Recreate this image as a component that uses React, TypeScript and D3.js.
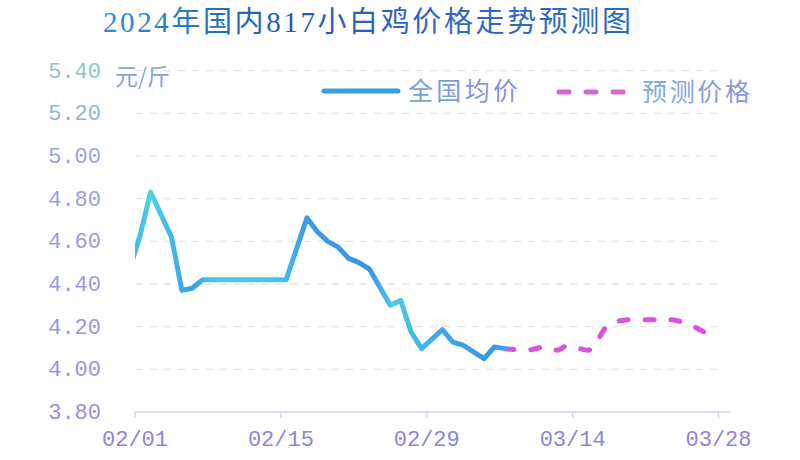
import * as d3 from "d3";

// 全国均价 (daily)
const actualDates = [
    "2024-01-31", "2024-02-01", "2024-02-02", "2024-02-04", "2024-02-05", "2024-02-06",
    "2024-02-07", "2024-02-08", "2024-02-09", "2024-02-10", "2024-02-11", "2024-02-12",
    "2024-02-13", "2024-02-14", "2024-02-15", "2024-02-17", "2024-02-18", "2024-02-19",
    "2024-02-20", "2024-02-21", "2024-02-22", "2024-02-23", "2024-02-25", "2024-02-26",
    "2024-02-27", "2024-02-28", "2024-03-01", "2024-03-02", "2024-03-03", "2024-03-05",
    "2024-03-06", "2024-03-07",
];
const actualValues = [
    4.47, 4.63, 4.83, 4.62, 4.37, 4.38,
    4.42, 4.42, 4.42, 4.42, 4.42, 4.42,
    4.42, 4.42, 4.42, 4.71, 4.645, 4.60,
    4.573, 4.52, 4.50, 4.47, 4.30, 4.323,
    4.175, 4.097, 4.186, 4.128, 4.113, 4.05,
    4.105, 4.097,
];

// 预测价格
const forecastDates = [
    "2024-03-07", "2024-03-09", "2024-03-11", "2024-03-12", "2024-03-13", "2024-03-15",
    "2024-03-17", "2024-03-19", "2024-03-23", "2024-03-24", "2024-03-27",
];
const forecastValues = [
    4.097, 4.09, 4.105, 4.09, 4.11, 4.09,
    4.21, 4.233, 4.233, 4.222, 4.15,
];

const yTicks = [3.8, 4.0, 4.2, 4.4, 4.6, 4.8, 5.0, 5.2, 5.4];
const xTickLabels = ["02/01", "02/15", "02/29", "03/14", "03/28"];

const title = "2024年国内817小白鸡价格走势预测图";
const unitLabel = "元/斤";
const legendActual = "全国均价";
const legendForecast = "预测价格";

const parse = d3.timeParse("%Y-%m-%d");
// daily values sit in the middle of their day
const noon = (s: string) => d3.timeHour.offset(parse(s) as Date, 12);
const tickDate = (s: string) => new Date(2024, +s.slice(0, 2) - 1, +s.slice(3));

const mono = "'Liberation Mono', 'DejaVu Sans Mono', monospace";
const cjk = "'Noto Sans CJK SC', sans-serif";

function App() {
    const left = 135;
    const right = 718.5;
    const top = 70.7;
    const bottom = 412;

    const x = d3.scaleTime()
        .domain([tickDate(xTickLabels[0]), tickDate(xTickLabels[xTickLabels.length - 1])])
        .range([left, right]);
    const y = d3.scaleLinear().domain([3.8, 5.4]).range([bottom, top]);

    const actual = actualDates.map((d, i) => ({ date: noon(d), value: actualValues[i] }));
    const forecast = forecastDates.map((d, i) => ({ date: noon(d), value: forecastValues[i] }));

    const actualLine = d3.line<{ date: Date; value: number }>()
        .x(d => x(d.date))
        .y(d => y(d.value));
    const forecastLine = d3.line<{ date: Date; value: number }>()
        .x(d => x(d.date))
        .y(d => y(d.value))
        .curve(d3.curveMonotoneX);

    const tickColor = d3.scaleLinear<string>()
        .domain([5.4, 5.0, 3.8])
        .range(["#8cc6cc", "#9aa0e2", "#9b8de6"]);

    return (
        <svg width={800} height={460} style={{ position: "absolute", left: 0, top: 0, background: "#fff" }}>
            <defs>
                <linearGradient id="titleGrad" x1="0" x2="1" y1="0" y2="0">
                    <stop offset="0%" stopColor="#2f8fd6" />
                    <stop offset="35%" stopColor="#1f5cb0" />
                    <stop offset="65%" stopColor="#3466c4" />
                    <stop offset="100%" stopColor="#2a6cc0" />
                </linearGradient>
                <linearGradient id="ruleGrad" x1="0" x2="1" y1="0" y2="0">
                    <stop offset="0%" stopColor="#3c3c9e" />
                    <stop offset="45%" stopColor="#2a6ec8" />
                    <stop offset="100%" stopColor="#4a48b0" />
                </linearGradient>
                <linearGradient id="blueGrad" gradientUnits="userSpaceOnUse" x1={left} x2={520} y1="0" y2="0">
                    <stop offset="0%" stopColor="#3fb8e8" />
                    <stop offset="4%" stopColor="#4fd2e2" />
                    <stop offset="11%" stopColor="#40b0e8" />
                    <stop offset="15%" stopColor="#3a9ce6" />
                    <stop offset="20%" stopColor="#48c8e6" />
                    <stop offset="38%" stopColor="#46c4e6" />
                    <stop offset="44%" stopColor="#3a9ce8" />
                    <stop offset="61%" stopColor="#3a94e4" />
                    <stop offset="67%" stopColor="#4ccce2" />
                    <stop offset="72%" stopColor="#46bce6" />
                    <stop offset="80%" stopColor="#3fa6e8" />
                    <stop offset="92%" stopColor="#3a98e4" />
                    <stop offset="100%" stopColor="#4aa8e8" />
                </linearGradient>
                <linearGradient id="legendText" x1="0" x2="1" y1="0" y2="0">
                    <stop offset="0%" stopColor="#6fa6dc" />
                    <stop offset="100%" stopColor="#8a8ede" />
                </linearGradient>
                <linearGradient id="legendText2" x1="0" x2="1" y1="0" y2="0">
                    <stop offset="0%" stopColor="#7ab0d4" />
                    <stop offset="100%" stopColor="#8c94dc" />
                </linearGradient>
                <clipPath id="plotClip">
                    <rect x={left} y={0} width={800 - left} height={460} />
                </clipPath>
            </defs>

            {/* title + rule */}
            <text x={103} y={32} fontSize={29} fontFamily={`'Liberation Serif', ${cjk}`}
                fill="url(#titleGrad)" textLength={528} lengthAdjust="spacing">{title}</text>
            <line x1={20} x2={785} y1={51} y2={51} stroke="url(#ruleGrad)" strokeWidth={3} />

            {/* grid */}
            <g>
                {yTicks.slice(1).map(t => (
                    <line key={t} x1={left + 1} x2={723} y1={y(t)} y2={y(t)}
                        stroke="#e4e4ec" strokeWidth={1.3} strokeDasharray="7 7" />
                ))}
            </g>

            {/* y labels */}
            <g fontFamily={mono} fontSize={22} textAnchor="end">
                {yTicks.map(t => (
                    <text key={t} x={101} y={y(t) + 7} fill={tickColor(t)}>{d3.format(".2f")(t)}</text>
                ))}
            </g>
            <text x={115} y={85} fontFamily={cjk} fontSize={23} fill="#88a6d8">{unitLabel}</text>

            {/* x axis */}
            <line x1={left} x2={730} y1={bottom} y2={bottom} stroke="#d4d2f0" strokeWidth={1.5} />
            <g fontFamily={mono} fontSize={22} textAnchor="middle" fill="#8c84e0">
                {xTickLabels.map(l => (
                    <g key={l} transform={`translate(${x(tickDate(l))},0)`}>
                        <line y1={bottom} y2={bottom + 6} stroke="#d4d2f0" strokeWidth={1.5} />
                        <text y={446}>{l}</text>
                    </g>
                ))}
            </g>

            {/* series */}
            <g clipPath="url(#plotClip)">
                <path d={forecastLine(forecast) ?? ""} fill="none" stroke="#dc52d8" strokeWidth={5}
                    strokeLinecap="round" strokeDasharray="9 17" />
                <path d={actualLine(actual) ?? ""} fill="none" stroke="url(#blueGrad)" strokeWidth={5}
                    strokeLinejoin="round" strokeLinecap="round" />
            </g>

            {/* legend */}
            <line x1={324} x2={398} y1={91} y2={91} stroke="#36a2e2" strokeWidth={5} strokeLinecap="round" />
            <text x={408} y={100} fontFamily={cjk} fontSize={25} fill="url(#legendText)"
                textLength={110} lengthAdjust="spacing">{legendActual}</text>
            <line x1={559} x2={630} y1={92} y2={92} stroke="#cc6ad2" strokeWidth={5}
                strokeLinecap="round" strokeDasharray="10 17" />
            <text x={642} y={101} fontFamily={cjk} fontSize={25} fill="url(#legendText2)"
                textLength={108} lengthAdjust="spacing">{legendForecast}</text>
        </svg>
    );
}

export default App;
